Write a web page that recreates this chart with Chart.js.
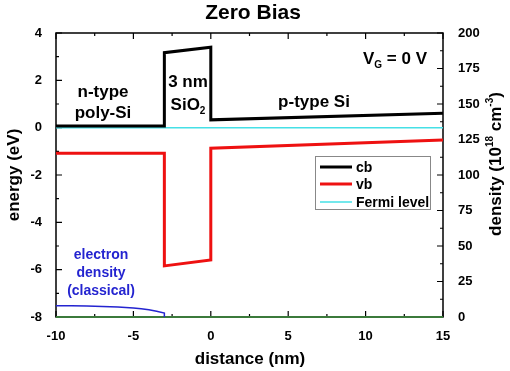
<!DOCTYPE html>
<html><head><meta charset="utf-8">
<script src="https://cdn.jsdelivr.net/npm/chart.js@4"></script>
<style>html,body{margin:0;padding:0;background:#fff}</style>
</head><body>
<div style="width:510px;height:371px"><canvas id="c" width="510" height="371"></canvas></div>
<script>
// ---- data ----
const cbX = [-10, -3, -3, 0, 0, 15];
const cbY = [0.07, 0.07, 3.17, 3.40, 0.33, 0.61];
const vbX = [-10, -3, -3, 0, 0, 15];
const vbY = [-1.08, -1.08, -5.84, -5.59, -0.87, -0.52];
const fermiX = [-10, 15];
const fermiY = [0, 0];
const densX = [-10, -9, -8, -7, -6, -5, -4.5, -4, -3.5, -3, -3];
const densY = [8.0, 7.9, 7.7, 7.4, 7.0, 6.3, 5.8, 5.1, 4.1, 2.8, 0];
const holeX = [-10, 15];
const holeY = [0, 0];
const legendLabels = ['cb', 'vb', 'Fermi level'];

const pts = (xs, ys) => xs.map((x, i) => ({x: x, y: ys[i]}));
const FONT = 'Liberation Sans, Arial, sans-serif';
const tickFont = {family: FONT, weight: 'bold', size: 13};

function drawTicks(ctx, scale, side, ca) {
  const vals = scale.ticks.map(t => t.value);
  const all = [];
  for (let i = 0; i < vals.length; i++) {
    all.push([vals[i], 6]);
    if (i < vals.length - 1) all.push([(vals[i] + vals[i + 1]) / 2, 3]);
  }
  ctx.beginPath();
  for (const [v, len] of all) {
    const p = scale.getPixelForValue(v);
    if (side === 'left') { ctx.moveTo(ca.left, p); ctx.lineTo(ca.left + len, p); }
    if (side === 'right') { ctx.moveTo(ca.right, p); ctx.lineTo(ca.right - len, p); }
    if (side === 'bottom') { ctx.moveTo(p, ca.bottom); ctx.lineTo(p, ca.bottom - len); }
    if (side === 'top') { ctx.moveTo(p, ca.top); ctx.lineTo(p, ca.top + len); }
  }
  ctx.stroke();
}

function textWithSub(ctx, parts, x, y, align) {
  let w = 0;
  for (const p of parts) { ctx.font = 'bold ' + p[1] + 'px ' + FONT; w += ctx.measureText(p[0]).width; }
  let cx = align === 'center' ? x - w / 2 : x;
  ctx.textAlign = 'left';
  for (const p of parts) {
    ctx.font = 'bold ' + p[1] + 'px ' + FONT;
    ctx.fillText(p[0], cx, y + p[2]);
    cx += ctx.measureText(p[0]).width;
  }
}

const overlay = {
  id: 'overlay',
  beforeDatasetsDraw(chart) {
    const ctx = chart.ctx, ca = chart.chartArea;
    ctx.save();
    ctx.strokeStyle = '#000';
    ctx.lineWidth = 1.5;
    ctx.strokeRect(ca.left, ca.top, ca.right - ca.left, ca.bottom - ca.top);
    ctx.lineWidth = 1.2;
    drawTicks(ctx, chart.scales.y, 'left', ca);
    drawTicks(ctx, chart.scales.y2, 'right', ca);
    drawTicks(ctx, chart.scales.x, 'bottom', ca);
    drawTicks(ctx, chart.scales.x, 'top', ca);
    ctx.restore();
  },
  afterDraw(chart) {
    const ctx = chart.ctx;
    ctx.save();
    ctx.fillStyle = '#000';
    ctx.textBaseline = 'alphabetic';
    // title
    ctx.font = 'bold 21px ' + FONT; ctx.textAlign = 'center';
    ctx.fillText('Zero Bias', 253, 19);
    // annotations
    ctx.font = 'bold 17px ' + FONT;
    ctx.fillText('n-type', 103, 97);
    ctx.fillText('poly-Si', 103, 118);
    ctx.fillText('3 nm', 188, 87);
    ctx.fillText('p-type Si', 314, 107);
    textWithSub(ctx, [['SiO', 17, 0], ['2', 10, 4]], 188, 110, 'center');
    textWithSub(ctx, [['V', 17, 0], ['G', 10, 4], [' = 0 V', 17, 0]], 363, 64, 'left');
    // electron density label
    ctx.fillStyle = '#2424d0';
    ctx.font = 'bold 14px ' + FONT; ctx.textAlign = 'center';
    ctx.fillText('electron', 101, 259);
    ctx.fillText('density', 101, 277);
    ctx.fillText('(classical)', 101, 295);
    // axis titles
    ctx.fillStyle = '#000';
    ctx.font = 'bold 17px ' + FONT;
    ctx.textAlign = 'center';
    ctx.fillText('distance (nm)', 250, 364);
    ctx.save();
    ctx.translate(19, 175); ctx.rotate(-Math.PI / 2);
    ctx.textAlign = 'center';
    ctx.fillText('energy (eV)', 0, 0);
    ctx.restore();
    ctx.save();
    ctx.translate(501, 164); ctx.rotate(-Math.PI / 2);
    textWithSub(ctx, [['density (10', 17, 0], ['18', 10, -8], [' cm', 17, 0], ['-3', 10, -8], [')', 17, 0]], 0, 0, 'center');
    ctx.restore();
    // legend
    const ds = chart.data.datasets;
    ctx.strokeStyle = '#888'; ctx.lineWidth = 1;
    ctx.fillStyle = '#fff';
    ctx.fillRect(315, 156, 115, 53);
    ctx.strokeRect(315.5, 156.5, 115, 53);
    const rows = [167, 184, 202];
    ctx.font = 'bold 14px ' + FONT; ctx.textAlign = 'left'; ctx.textBaseline = 'middle';
    for (let i = 0; i < 3; i++) {
      ctx.strokeStyle = ds[i].borderColor; ctx.lineWidth = ds[i].borderWidth;
      ctx.beginPath(); ctx.moveTo(320, rows[i]); ctx.lineTo(352, rows[i]); ctx.stroke();
      ctx.fillStyle = '#000';
      ctx.fillText(legendLabels[i], 356, rows[i] + 1);
    }
    ctx.restore();
  }
};

new Chart(document.getElementById('c'), {
  type: 'scatter',
  data: {
    datasets: [
      {label: legendLabels[0], data: pts(cbX, cbY), showLine: true, borderColor: '#000', borderWidth: 3, pointRadius: 0, yAxisID: 'y', order: 1},
      {label: legendLabels[1], data: pts(vbX, vbY), showLine: true, borderColor: '#ee1111', borderWidth: 3, pointRadius: 0, yAxisID: 'y', order: 2},
      {label: legendLabels[2], data: pts(fermiX, fermiY), showLine: true, borderColor: '#45e0e6', borderWidth: 1.5, pointRadius: 0, yAxisID: 'y', order: 3},
      {label: 'electron density', data: pts(densX, densY), showLine: true, borderColor: '#2424d0', borderWidth: 1.5, pointRadius: 0, yAxisID: 'y2', order: 4, clip: 4},
      {label: 'hole density', data: pts(holeX, holeY), showLine: true, borderColor: '#3b7a3b', borderWidth: 1.8, pointRadius: 0, yAxisID: 'y2', order: 5, clip: 4}
    ]
  },
  options: {
    responsive: false,
    animation: false,
    layout: {padding: {top: 33, left: 0, right: 0, bottom: 0}},
    plugins: {legend: {display: false}, tooltip: {enabled: false}},
    scales: {
      x: {type: 'linear', position: 'bottom', min: -10, max: 15,
          ticks: {stepSize: 5, padding: 4, font: tickFont, color: '#000'},
          grid: {display: false}, border: {display: false},
          afterFit(s) { s.height = 54; }},
      y: {type: 'linear', position: 'left', min: -8, max: 4,
          ticks: {stepSize: 2, padding: 6, font: tickFont, color: '#000'},
          grid: {display: false}, border: {display: false},
          afterFit(s) { s.width = 56; }},
      y2: {type: 'linear', position: 'right', min: 0, max: 200,
          ticks: {stepSize: 25, padding: 7, font: tickFont, color: '#000'},
          grid: {display: false}, border: {display: false},
          afterFit(s) { s.width = 67; }}
    }
  },
  plugins: [overlay]
});
</script>
</body></html>
